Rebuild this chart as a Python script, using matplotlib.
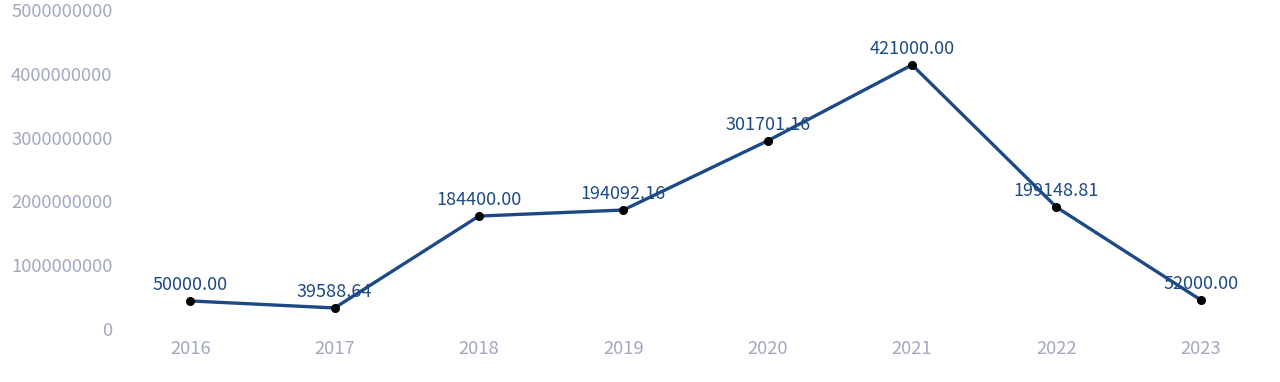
import matplotlib
matplotlib.use("Agg")
import matplotlib.pyplot as plt

years = ["2016", "2017", "2018", "2019", "2020", "2021", "2022", "2023"]
values = [0.44e9, 0.33e9, 1.77e9, 1.865e9, 2.95e9, 4.14e9, 1.91e9, 0.455e9]
labels = ["50000.00", "39588.64", "184400.00", "194092.16", "301701.16",
          "421000.00", "199148.81", "52000.00"]
yticks = [0, 1000000000, 2000000000, 3000000000, 4000000000, 5000000000]

plt.rcParams['font.family'] = ['Noto Sans CJK SC', 'DejaVu Sans']

fig = plt.figure(figsize=(12.8, 3.82), dpi=100)
ax = fig.add_axes([118/1280, 1-329/382, (1273-118)/1280, (329-10)/382])

x = list(range(len(years)))
ax.plot(x, values, color="#1d4a87", linewidth=2.4, marker="o",
        markersize=5.5, markerfacecolor="black", markeredgecolor="black", zorder=3)
for xi, v, lab in zip(x, values, labels):
    ax.annotate(lab, (xi, v), xytext=(0, 5), textcoords="offset points",
                ha="center", va="bottom", fontsize=13, color="#1d4a87", zorder=2)

ax.set_xlim(-0.5, len(years) - 0.5)
ax.set_ylim(0, 5e9)
ax.set_xticks(x)
ax.set_xticklabels(years)
ax.set_yticks(yticks)
ax.set_yticklabels([str(t) for t in yticks])
ax.tick_params(axis="both", length=0, labelsize=13.3, labelcolor="#a3a8c3")
ax.tick_params(axis="x", pad=8)
ax.tick_params(axis="y", pad=4)
for s in ax.spines.values():
    s.set_visible(False)

fig.savefig("out.png", dpi=100)
